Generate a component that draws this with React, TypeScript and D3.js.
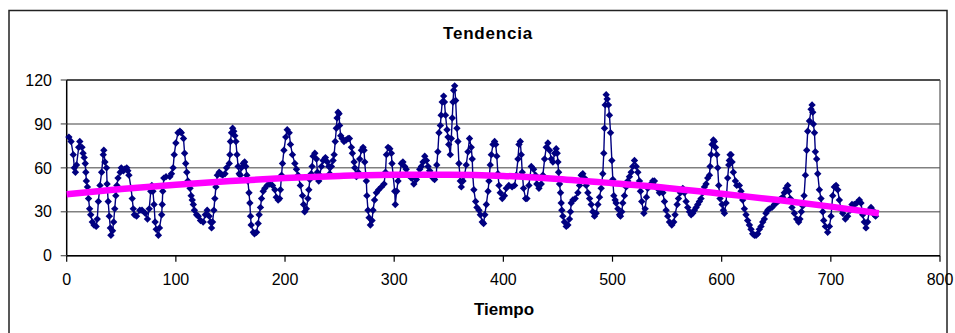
import React from "react";
import * as d3 from "d3";

const serie0: [number, number][] = [[2,81],[4,78],[6,69],[7,60],[8,57],[9,62],[11,74],[12,78],[14,74],[15,70],[16,67],[17,63],[17.5,57],[18,51],[19,47],[20,39],[21,32],[22,28],[23.5,23],[25,21],[27,20],[28,25],[29,37],[30.5,48],[32,57],[33.5,69],[34,72],[35,64],[36.5,60],[37,49],[38,37],[39,27],[40,19],[40.5,14],[42,17],[43,23],[44,32],[45,41],[46,48],[47,53],[49,57],[50,60],[52,58],[53,59],[55,60],[56,58],[57,55],[59,46],[60,39],[61,32],[62,28],[64,27],[67,31],[69,31],[72,29],[74,25],[75.6,32],[77,44],[78,48],[79,44],[80,35],[81,23],[82,18],[84,14],[85,19],[87,28],[87.5,35],[88,44],[89,53],[91,54],[94.5,54],[96,56],[97.5,60],[98.5,69],[100,77],[102,84],[103.7,85]];
const serie1: [number, number][] = [[105,84],[107,80],[108,70],[109,63],[110,57],[111,51],[113,46],[114,41],[115,38],[116,35],[117,31],[119,28],[120.5,27],[122.6,24],[125,23],[127,28],[128.7,31],[130.5,27],[131.8,23],[132.7,19],[133.6,23],[134.8,31],[135.7,39],[136.7,47],[138,55],[139.7,57],[141,56],[142.8,55],[145,56],[146.4,60],[148.9,63],[149.5,69],[150,78],[151,84],[152,87],[153,85],[154,82],[155,78],[156,69],[157,61],[158,56],[159,55],[160,60],[161.7,63],[163,64],[164,61],[165,55],[166,51],[167,43],[167.8,36],[168.4,27],[169,21],[171,16],[172,15],[173.9,16],[175.4,22],[176.3,28],[177.5,33],[178.5,39],[180,44],[181.5,46],[183.6,48],[186,49],[188.5,48],[190.7,45],[192,40],[193.7,38],[195,39],[195.8,45],[196.8,55],[197.7,63],[199,72],[200.7,81],[202,86],[203.8,84],[205,76],[206.8,69],[209,63],[210.5,59],[212,55],[214,48],[216,41],[217,35],[218,30]];
const serie2: [number, number][] = [[219.6,32],[221,39],[221.8,45],[222.7,52],[224,56],[224.8,61],[225.7,68],[227.3,70],[228.8,66],[229.7,57],[230.9,51],[231.8,55],[233.4,61],[234.9,65],[237,67],[238.8,64],[240,61],[241,56],[242.5,61],[244,65],[245,69],[246,78],[247,87],[247.7,94],[248.6,98],[249.5,97],[250,89],[251,82],[252.3,80],[254,78],[256,79],[257.8,80],[259,80],[260.8,74],[261.7,70],[263.3,64],[263.9,60],[265.4,54],[267,57],[268.4,66],[270,72],[271.5,74],[272.4,72],[273,64],[274,55],[274.5,51],[275,41],[276,31],[277,26],[278.2,21],[279.7,24],[280.6,31],[282,38],[283.7,43],[285.8,45],[288.3,47],[290.7,49],[292,57],[292.9,69],[294.4,74],[296,73],[297.4,70],[298,63],[299,55],[300.5,44],[301,35],[302.3,44],[303.5,51],[305,55],[306.6,63],[308,64],[309.6,61],[311,59],[313,55],[315.7,53],[318,49],[320.3,52],[321.8,55],[323.4,59],[324.9,61],[326.4,64],[328,68],[329.5,65],[331,61]];
const serie3: [number, number][] = [[332.5,58],[333.4,56],[335,55],[335.5,53],[337,52],[338.6,55],[339,62],[340,71],[341,84],[342.3,89],[343,96],[344,105],[345.3,109],[346,105],[347,96],[348.4,86],[349.3,81],[350,76],[351.4,69],[352.3,80],[353.2,94],[353.9,105],[354.5,113],[355.4,116],[356.3,106],[357.5,87],[358.4,78],[359.3,63],[360.6,51],[361.5,47],[363,51],[364.5,55],[366,62],[367.6,71],[369,80],[370.6,74],[371.5,66],[372,55],[373,45],[374.6,37],[375.8,33],[377.7,31],[378.9,28],[380.7,23],[381.9,22],[383,28],[384.4,35],[386,44],[386.8,51],[388,62],[389,69],[390.5,76],[392,78],[393,76],[394,68],[395,56],[396,48],[397.2,43],[399,39],[401,41],[402.7,46],[405,48],[408,47],[410.3,48],[411.8,55],[413.4,66],[414.3,76],[415.5,78],[416.4,69],[417.3,57],[418.5,46],[420.4,39],[421.6,39],[423.4,48],[425.6,61],[427.7,59],[429.5,55],[430.7,49],[432.6,46],[434.7,49],[436.2,55],[437.8,66],[439.3,74],[440.8,77],[442.3,72],[443.9,66],[445.4,64]];
const serie4: [number, number][] = [[447,70],[448.4,73],[449.3,70],[450,64],[450.6,57],[451.5,49],[452.4,43],[453,36],[453.6,31],[454.5,27],[456,23],[457.6,20],[459.1,21],[460.6,25],[461.5,30],[462.2,36],[463.7,38],[465.8,39],[468.3,43],[469.8,48],[471.3,55],[472.8,56],[474.4,53],[475.9,48],[477.4,43],[479,39],[480.5,35],[482,30],[483.5,27],[485,29],[486.6,35],[488.1,40],[489.6,46],[491.1,56],[492,70],[492.7,87],[493.3,103],[494.2,110],[495.1,107],[496.3,103],[497.2,96],[498.2,84],[499.4,65],[500.3,52],[501.2,41],[502.4,38],[503.3,36],[504.9,32],[506.4,28],[507.3,27],[508.5,30],[509.4,36],[510.9,41],[512.5,47],[514,51],[515.5,54],[517.1,57],[518.6,61],[520.1,65],[521.7,61],[523.2,57],[524.7,51],[525.6,44],[526.8,37],[528.7,29],[529.9,32],[531.1,40],[532.3,46],[533.9,48],[535.4,49],[536.9,51],[538.4,51],[540.9,46],[543,43],[544.5,45],[546.1,43],[547.6,37],[549.1,31],[550.6,27],[552.2,23],[554.3,21],[556.1,23],[557.3,28],[559.2,35],[560.4,39],[562.2,43],[564.4,46]];
const serie5: [number, number][] = [[565.9,43],[567.4,37],[568.9,33],[570.5,30],[572,28],[573.5,29],[575,31],[576.6,33],[578.1,35],[579.6,37],[581.1,39],[582.7,43],[584.2,47],[585.7,49],[587.2,53],[588.8,55],[589.4,61],[590.3,69],[591.2,76],[592.4,79],[593.3,78],[594.3,74],[595.5,69],[596.4,60],[597.3,48],[598.5,39],[600.4,35],[601.6,31],[602.5,29],[604,36],[605.5,53],[606.5,62],[607,65],[607.7,69],[608.6,69],[609.5,64],[610.7,57],[612.6,51],[613.8,48],[616.2,48],[617.7,44],[619.3,38],[620.8,32],[622.3,28],[623.8,24],[625.4,21],[626.9,18],[628.4,15],[630,14],[631.5,14],[633,15],[634.5,18],[636,20],[637.6,23],[639.1,25],[640.6,29],[642.2,31],[643.7,32],[646.1,33],[648.3,35],[649.8,36],[651.3,37],[652.8,38],[654.4,39],[655.9,40],[657.4,43],[658.9,46],[660.5,48],[661.4,44],[662.9,39],[664.4,33],[666.6,29],[668.7,25],[670.5,23]];
const serie6: [number, number][] = [[671.7,25],[673,30],[674.3,34],[675.5,41],[676.7,55],[677.9,72],[678.8,85],[680.4,92],[681.9,100],[682.8,103],[683.4,98],[684,90],[685,84],[685.8,71],[687,66],[688,56],[689.5,45],[691,39],[692.6,30],[693.5,24],[695,20],[697.1,16],[698.7,20],[700.2,27],[701.7,41],[703.2,47],[704.8,48],[706.3,45],[707.8,38],[709.3,32],[710.9,29],[713.3,25],[715.4,27],[717.6,31],[719.4,35],[721.5,35],[723.7,36],[726.1,38],[727.6,36],[729.2,28],[730.7,23],[732.2,19],[733.7,23],[735.3,31],[736.8,33],[738.3,31],[739.9,28],[741,27]];

// Trend line (polynomial fit as drawn)
const tendenciaT = [0, 50, 100, 150, 200, 250, 300, 350, 400, 450, 500, 550, 600, 650, 700, 744];
const tendenciaV = [42, 45.5, 48.5, 51, 53, 54.5, 55.3, 55.3, 54.5, 52.4, 49.5, 46.3, 42.3, 38.2, 33.5, 29];

const xTicks = [0, 100, 200, 300, 400, 500, 600, 700, 800];
const yTicks = [0, 30, 60, 90, 120];

const titulo = "Tendencia";
const ejeX = "Tiempo";

export default function App() {
  const W = 955, H = 333;
  const x = d3.scaleLinear().domain([0, 800]).range([66.7, 940]);
  const y = d3.scaleLinear().domain([0, 120]).range([255.7, 80]);
  const datos = [...serie0, ...serie1, ...serie2, ...serie3, ...serie4, ...serie5, ...serie6];
  const linea = d3.line<[number, number]>().x(d => x(d[0])).y(d => y(d[1]))(datos) || "";
  const trendPts: [number, number][] = tendenciaT.map((t, i) => [t, tendenciaV[i]]);
  const trend = d3.line<[number, number]>().x(d => x(d[0])).y(d => y(d[1])).curve(d3.curveMonotoneX)(trendPts) || "";
  const r = 3.7;
  const diamond = `M0,${-r}L${r},0L0,${r}L${-r},0Z`;
  const font = "'Liberation Sans', Arial, sans-serif";
  return (
    <svg width={W} height={H} style={{ position: "absolute", left: 0, top: 0, background: "#fff" }}>
      <rect x={0} y={0} width={W} height={H} fill="#fff" />
      <rect x={9} y={10.5} width={938} height={330} fill="none" stroke="#222" strokeWidth={1.5} />
      <text x={488} y={39} textAnchor="middle" fontFamily={font} fontWeight="bold" fontSize={17} letterSpacing={0.8}>{titulo}</text>
      {yTicks.map(v => (
        <line key={"g" + v} x1={x(0)} x2={x(800)} y1={y(v)} y2={y(v)} stroke="#808080" strokeWidth={1.5} />
      ))}
      <line x1={x(0)} x2={x(800)} y1={y(120)} y2={y(120)} stroke="#333" strokeWidth={1.5} />
      <line x1={x(800)} x2={x(800)} y1={y(0)} y2={y(120)} stroke="#555" strokeWidth={1.2} />
      <line x1={x(0)} x2={x(0)} y1={y(0)} y2={y(120)} stroke="#000" strokeWidth={1.5} />
      <line x1={x(0)} x2={x(800)} y1={y(0)} y2={y(0)} stroke="#000" strokeWidth={1.5} />
      {yTicks.map(v => (
        <g key={"y" + v}>
          <line x1={x(0) - 6} x2={x(0)} y1={y(v)} y2={y(v)} stroke="#555" strokeWidth={1.2} />
          <text x={52} y={y(v) + 5.7} textAnchor="end" fontFamily={font} fontSize={16}>{v}</text>
        </g>
      ))}
      {xTicks.map(v => (
        <g key={"x" + v}>
          <line x1={x(v)} x2={x(v)} y1={y(0)} y2={y(0) + 6} stroke="#000" strokeWidth={1.2} />
          <text x={x(v)} y={285} textAnchor="middle" fontFamily={font} fontSize={16}>{v}</text>
        </g>
      ))}
      <text x={504} y={315} textAnchor="middle" fontFamily={font} fontWeight="bold" fontSize={17}>{ejeX}</text>
      <path d={linea} fill="none" stroke="#000080" strokeWidth={1.4} />
      {datos.map((d, i) => (
        <path key={"m" + i} d={diamond} transform={`translate(${x(d[0])},${y(d[1])})`} fill="#000080" />
      ))}
      <path d={trend} fill="none" stroke="#FF00FF" strokeWidth={6.5} />
    </svg>
  );
}
